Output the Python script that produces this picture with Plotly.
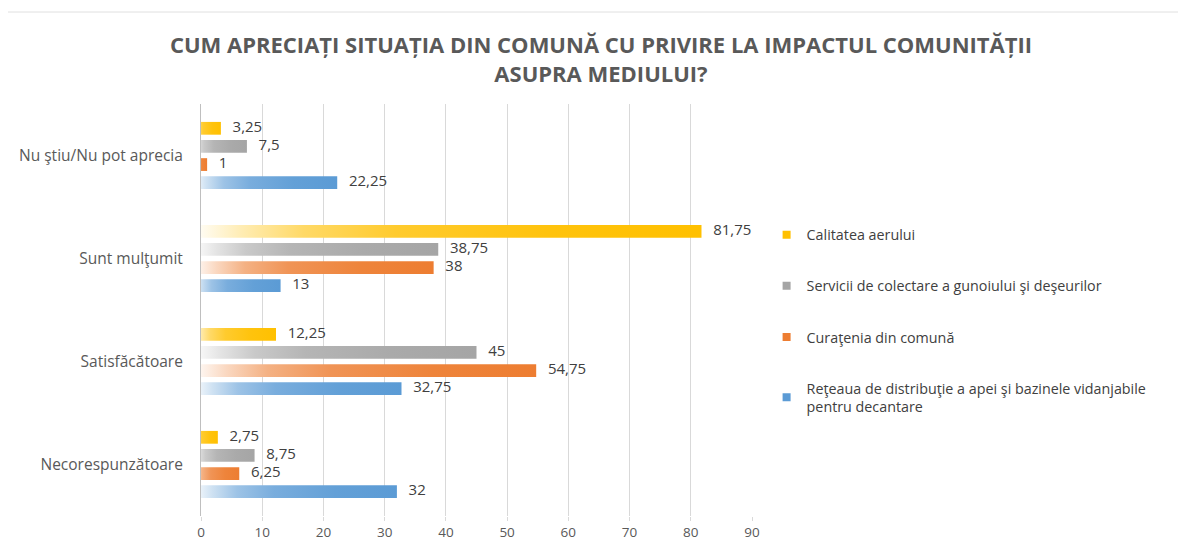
import plotly.graph_objects as go

categories = ["Nu ştiu/Nu pot aprecia", "Sunt mulţumit", "Satisfăcătoare", "Necorespunzătoare"]
series_names = [
    "Calitatea aerului",
    "Servicii de colectare a gunoiului şi deşeurilor",
    "Curaţenia din comună",
    "Reţeaua de distribuţie a apei şi bazinele vidanjabile<br>pentru decantare",
]
calitatea_aerului = [3.25, 81.75, 12.25, 2.75]
servicii_colectare = [7.5, 38.75, 45, 8.75]
curatenia = [1, 38, 54.75, 6.25]
reteaua_apa = [22.25, 13, 32.75, 32]
series_values = [calitatea_aerului, servicii_colectare, curatenia, reteaua_apa]
x_ticks = [0, 10, 20, 30, 40, 50, 60, 70, 80, 90]

colors = ["#FFC000", "#A5A5A5", "#ED7D31", "#5B9BD5"]
FONT = "Open Sans"


def mix(hexc, f):
    r, g, b = int(hexc[1:3], 16), int(hexc[3:5], 16), int(hexc[5:7], 16)
    return "rgb({},{},{})".format(round(255 + (r - 255) * f), round(255 + (g - 255) * f), round(255 + (b - 255) * f))


def fmt(v):
    return ("%g" % v).replace(".", ",")


fig = go.Figure()
n_cat = len(categories)
step = 0.176
half_h = 0.062
grad_lead = 1.5  # gradient begins slightly before the axis so short bars stay tinted

for si, (name, vals, col) in enumerate(zip(series_names, series_values, colors)):
    offset = (1.5 - si) * step
    ys = [(n_cat - 1 - ci) + offset for ci in range(n_cat)]
    for v, yc in zip(vals, ys):
        fig.add_trace(go.Scatter(
            x=[0, v, v, 0, 0],
            y=[yc - half_h, yc - half_h, yc + half_h, yc + half_h, yc - half_h],
            fill="toself", mode="lines", line=dict(width=0, color=col),
            fillgradient=dict(type="horizontal", start=-grad_lead, stop=v, colorscale=[
                [0, "#ffffff"], [0.1, mix(col, 0.3)], [0.22, mix(col, 0.6)],
                [0.4, mix(col, 0.82)], [0.7, mix(col, 0.95)], [1, col]]),
            showlegend=False, hoverinfo="skip"))
    fig.add_trace(go.Scatter(
        x=vals, y=ys, mode="text", text=["   " + fmt(v) for v in vals],
        textposition="middle right",
        textfont=dict(family=FONT, size=15, color="#404040"),
        showlegend=False, hoverinfo="skip"))

for name, col in zip(series_names, colors):
    fig.add_trace(go.Scatter(
        x=[None], y=[None], mode="markers", name=name, legendgroup=name,
        marker=dict(symbol="square", size=8, color=col)))

fig.update_layout(
    width=1178, height=543,
    paper_bgcolor="white", plot_bgcolor="white",
    margin=dict(l=193, r=434, t=96, b=35, autoexpand=False),
    font=dict(family=FONT, color="#595959"),
    title=dict(
        text="CUM APRECIAȚI SITUAȚIA DIN COMUNĂ CU PRIVIRE LA IMPACTUL COMUNITĂȚII<br>ASUPRA MEDIULUI?",
        x=0.5034, xanchor="center", y=0.917, yanchor="top",
        font=dict(family=FONT, size=22, color="#595959", weight="bold")),
    xaxis=dict(range=[0, 90], tickvals=x_ticks, showgrid=True, gridcolor="#d9d9d9",
               zeroline=False, showline=False, tickfont=dict(size=13.5, color="#595959"),
               ticks="outside", ticklen=4, tickcolor="#d9d9d9", fixedrange=True,
               automargin=False),
    yaxis=dict(range=[-0.5, 3.5], tickvals=[3, 2, 1, 0], ticktext=categories,
               showgrid=False, zeroline=False, showline=True, linecolor="#bfbfbf",
               tickfont=dict(size=15.5, color="#595959"), ticklabelstandoff=14,
               automargin=False),
    legend=dict(x=1.0265, xanchor="left", y=0.721, yanchor="top", traceorder="grouped",
                tracegroupgap=29.5, font=dict(family=FONT, size=14.3, color="#404040"),
                bgcolor="rgba(0,0,0,0)"),
    shapes=[dict(type="line", xref="paper", yref="paper", x0=-193 / 551, x1=985 / 551,
                 y0=(508 - 4) / 412, y1=(508 - 4) / 412, line=dict(color="#e0e0e0", width=1))],
)

fig.write_html("out.html")
